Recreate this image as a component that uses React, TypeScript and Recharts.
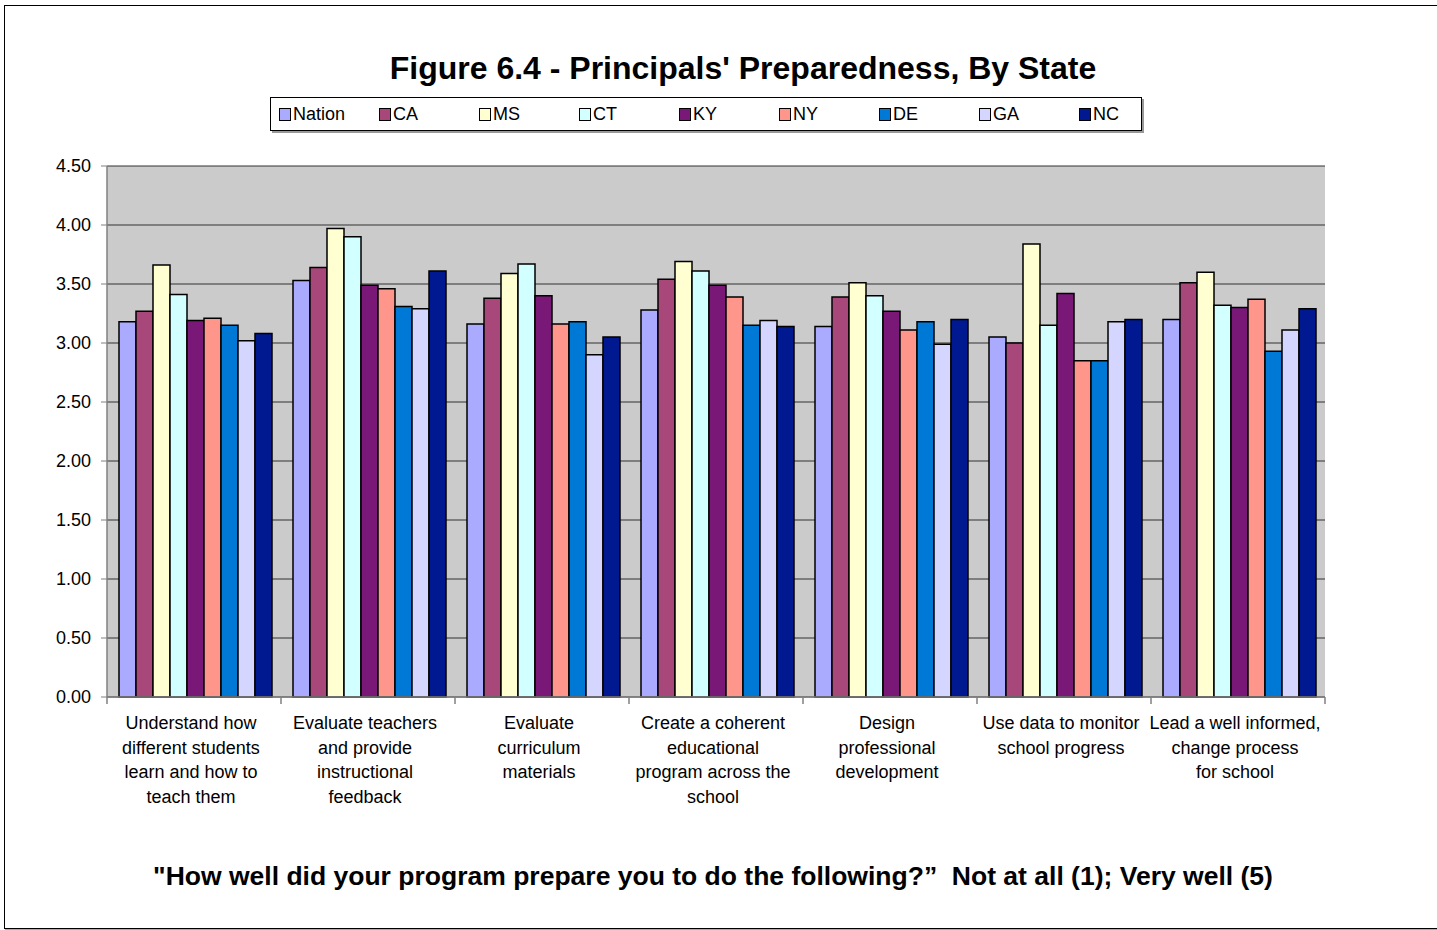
import React from 'react';
import { BarChart, Bar, XAxis, YAxis, CartesianGrid, Legend } from 'recharts';

const FONT = "'Liberation Sans', Arial, sans-serif";

const categories = [
  'Understand how\ndifferent students\nlearn and how to\nteach them',
  'Evaluate teachers\nand provide\ninstructional\nfeedback',
  'Evaluate\ncurriculum\nmaterials',
  'Create a coherent\neducational\nprogram across the\nschool',
  'Design\nprofessional\ndevelopment',
  'Use data to monitor\nschool progress',
  'Lead a well informed,\nchange process\nfor school',
];

const nation = [3.18, 3.53, 3.16, 3.28, 3.14, 3.05, 3.2];
const ca = [3.27, 3.64, 3.38, 3.54, 3.39, 3.0, 3.51];
const ms = [3.66, 3.97, 3.59, 3.69, 3.51, 3.84, 3.6];
const ct = [3.41, 3.9, 3.67, 3.61, 3.4, 3.15, 3.32];
const ky = [3.19, 3.49, 3.4, 3.49, 3.27, 3.42, 3.3];
const ny = [3.21, 3.46, 3.16, 3.39, 3.11, 2.85, 3.37];
const de = [3.15, 3.31, 3.18, 3.15, 3.18, 2.85, 2.93];
const ga = [3.02, 3.29, 2.9, 3.19, 2.99, 3.18, 3.11];
const nc = [3.08, 3.61, 3.05, 3.14, 3.2, 3.2, 3.29];

const yTicks = [0, 0.5, 1, 1.5, 2, 2.5, 3, 3.5, 4, 4.5];

const series = [
  { key: 'Nation', values: nation, color: '#AAAAFF' },
  { key: 'CA', values: ca, color: '#A8487A' },
  { key: 'MS', values: ms, color: '#FFFFD2' },
  { key: 'CT', values: ct, color: '#D2FFFF' },
  { key: 'KY', values: ky, color: '#7A1878' },
  { key: 'NY', values: ny, color: '#FF968C' },
  { key: 'DE', values: de, color: '#0078D6' },
  { key: 'GA', values: ga, color: '#D4D6FF' },
  { key: 'NC', values: nc, color: '#001890' },
];

const data = categories.map((name, i) => {
  const row: Record<string, any> = { name };
  series.forEach(s => { row[s.key] = s.values[i]; });
  return row;
});

const CategoryTick = (props: any) => {
  const { x, y, payload, index } = props;
  const half = payload && payload.offset ? payload.offset : 87;
  const lines = String(payload.value).split('\n');
  return (
    <g>
      <line x1={x - half} y1={y - 8} x2={x - half} y2={y - 1} stroke="#808080" strokeWidth={1.5} />
      {index === categories.length - 1 && (
        <line x1={x + half} y1={y - 8} x2={x + half} y2={y - 1} stroke="#808080" strokeWidth={1.5} />
      )}
      <text x={x} y={y} textAnchor="middle" fontFamily={FONT} fontSize={18} fill="#000">
        {lines.map((l, i) => (
          <tspan key={i} x={x - 3} y={y + 18 + i * 24.5} dominantBaseline="central">{l}</tspan>
        ))}
      </text>
    </g>
  );
};

const LegendBox = () => (
  <div
    style={{
      width: 872,
      height: 34,
      border: '1px solid #000',
      boxShadow: '2px 2px 0 #999',
      background: '#fff',
      display: 'flex',
      alignItems: 'center',
      paddingLeft: 8,
      boxSizing: 'border-box',
      fontFamily: FONT,
      fontSize: 18,
    }}
  >
    {series.map(s => (
      <div key={s.key} style={{ width: 100, flexShrink: 0, display: 'flex', alignItems: 'center' }}>
        <span
          style={{
            display: 'inline-block',
            width: 10,
            height: 11,
            background: s.color,
            border: '1.5px solid #000',
            marginRight: 2,
          }}
        />
        <span>{s.key}</span>
      </div>
    ))}
  </div>
);

export default function App() {
  return (
    <div style={{ position: 'absolute', left: 0, top: 0, width: 1437, height: 930, background: '#fff' }}>
      <div
        style={{
          position: 'absolute',
          left: 4,
          top: 5,
          width: 1445,
          height: 922,
          border: '1.5px solid #000',
          boxShadow: '1px 1px 0 #aaa',
        }}
      />
      <div
        style={{
          position: 'absolute',
          left: 0,
          top: 50,
          width: 1486,
          textAlign: 'center',
          fontFamily: FONT,
          fontWeight: 'bold',
          fontSize: 32,
        }}
      >
        Figure 6.4 - Principals' Preparedness, By State
      </div>
      <div style={{ position: 'absolute', left: 0, top: 0 }}>
        <BarChart
          width={1437}
          height={930}
          data={data}
          margin={{ top: 166, right: 112, bottom: 113, left: 40 }}
          barCategoryGap={12}
          barGap={0}
        >
          <CartesianGrid vertical={false} fill="#CBCBCB" stroke="#333" strokeWidth={1.2} />
          <XAxis
            dataKey="name"
            interval={0}
            tick={<CategoryTick />}
            tickLine={false}
            axisLine={{ stroke: '#808080', strokeWidth: 1.5 }}
            height={120}
          />
          <XAxis xAxisId="top" orientation="top" dataKey="name" tick={false} tickLine={false} axisLine={{ stroke: '#808080', strokeWidth: 2.5 }} height={0} />
          <YAxis
            domain={[0, 4.5]}
            ticks={yTicks}
            interval={0}
            tickFormatter={(v: number) => v.toFixed(2)}
            tick={{ fontFamily: FONT, fontSize: 18, fill: '#000' }}
            tickSize={6}
            tickMargin={10}
            tickLine={{ stroke: '#808080' }}
            axisLine={{ stroke: '#808080', strokeWidth: 1.5 }}
            width={67}
          />
          <YAxis yAxisId="right" orientation="right" domain={[0, 4.5]} tick={false} tickLine={false} axisLine={{ stroke: '#808080', strokeWidth: 3 }} width={0} />
          <Legend
            verticalAlign="middle"
            layout="horizontal"
            wrapperStyle={{ top: 97, left: 270, width: 872 }}
            content={<LegendBox />}
          />
          {series.map(s => (
            <Bar
              key={s.key}
              dataKey={s.key}
              fill={s.color}
              stroke="#000"
              strokeWidth={1.5}
              isAnimationActive={false}
            />
          ))}
        </BarChart>
      </div>
      <div
        style={{
          position: 'absolute',
          left: 0,
          top: 861,
          width: 1426,
          textAlign: 'center',
          fontFamily: FONT,
          fontWeight: 'bold',
          fontSize: 26.5,
          whiteSpace: 'pre',
        }}
      >
        {'"How well did your program prepare you to do the following?\u201D  Not at all (1); Very well (5)'}
      </div>
    </div>
  );
}
